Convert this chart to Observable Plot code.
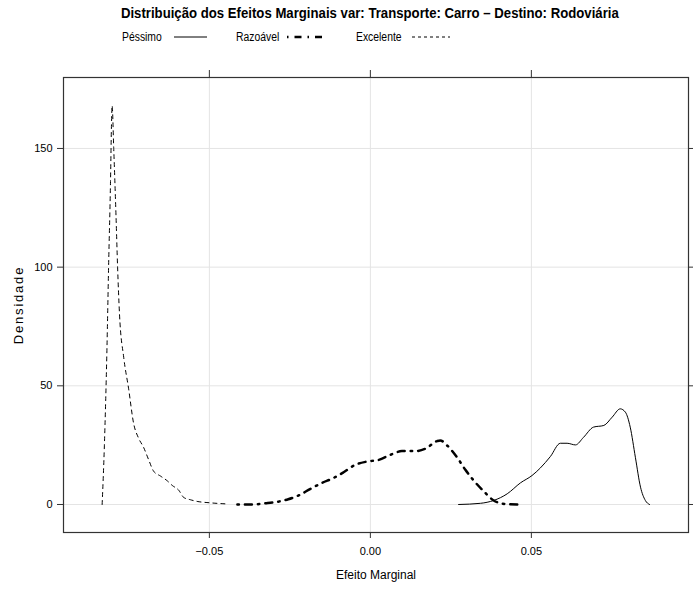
<!DOCTYPE html>
<html>
<head>
<meta charset="utf-8">
<script src="https://cdn.jsdelivr.net/npm/d3@7"></script>
<script src="https://cdn.jsdelivr.net/npm/@observablehq/plot@0.6"></script>
<style>
  body { margin: 0; background: white; width: 693px; height: 596px; overflow: hidden; }
  #wrap { position: relative; width: 693px; height: 596px; font-family: 'Liberation Sans', Arial, sans-serif; }
  #header { position: relative; width: 693px; height: 52px; }
  .abs { position: absolute; white-space: nowrap; }
  #title { left: 0; width: 740px; top: 4px; text-align: center; }
  #title span { display: inline-block; font-weight: bold; font-size: 15.5px; transform: scaleX(0.85); transform-origin: center; }
  .leg { font-size: 12.5px; top: 30px; transform: scaleX(0.83); transform-origin: left; }
  svg.sw { position: absolute; top: 31px; }
</style>
</head>
<body>
<div id="wrap">
  <div id="header">
    <div id="title" class="abs"><span>Distribuição dos Efeitos Marginais var: Transporte: Carro – Destino: Rodoviária</span></div>
    <div class="abs leg" style="left:122px">Péssimo</div>
    <svg class="sw" style="left:173px" width="36" height="12"><line x1="1" y1="6" x2="34" y2="6" stroke="black" stroke-width="1"/></svg>
    <div class="abs leg" style="left:236px">Razoável</div>
    <svg class="sw" style="left:285px" width="40" height="12"><line x1="2" y1="6" x2="38" y2="6" stroke="black" stroke-width="2.5" stroke-dasharray="1.5,6,7,6"/></svg>
    <div class="abs leg" style="left:356px">Excelente</div>
    <svg class="sw" style="left:411px" width="40" height="12"><line x1="1" y1="6" x2="39" y2="6" stroke="black" stroke-width="1" stroke-dasharray="3,3"/></svg>
  </div>
  <div id="chart"></div>
</div>
<script>
const xTicks = [-0.05, 0, 0.05];
const yTicks = [0, 50, 100, 150];

const pessimoX = [0.0274, 0.0342, 0.0383, 0.0425, 0.0466, 0.0502, 0.0528, 0.0559, 0.0590, 0.0611, 0.0637, 0.0662, 0.0693, 0.0725, 0.0751, 0.0776, 0.0792, 0.0807, 0.0823, 0.0839, 0.0854, 0.0867];
const pessimoY = [0, 0.5, 1.7, 4.5, 9.1, 12.2, 15.4, 20.2, 25.8, 25.8, 25.1, 28.3, 32.6, 33.3, 36.8, 40.3, 38.9, 32.6, 19.9, 7.3, 1.7, 0];

const razoavelX = [-0.0413, -0.0367, -0.0326, -0.0290, -0.0255, -0.0223, -0.0186, -0.0150, -0.0114, -0.0083, -0.0047, -0.0010, 0.0026, 0.0062, 0.0098, 0.0140, 0.0171, 0.0207, 0.0217, 0.0238, 0.0269, 0.0295, 0.0321, 0.0352, 0.0383, 0.0419, 0.0457];
const razoavelY = [0, 0, 0.5, 1.1, 2.2, 3.8, 6.6, 9.1, 11.2, 13.6, 16.7, 18.1, 18.8, 20.9, 22.5, 22.5, 23.5, 26.7, 27.0, 24.9, 19.9, 14.6, 10.1, 5.6, 1.7, 0.2, 0];

const excelenteX = [-0.0833, -0.0826, -0.0818, -0.0813, -0.0807, -0.0804, -0.0802, -0.0797, -0.0790, -0.0785, -0.0779, -0.0766, -0.0751, -0.0735, -0.0720, -0.0704, -0.0689, -0.0673, -0.0652, -0.0631, -0.0615, -0.0595, -0.0580, -0.0559, -0.0538, -0.0497, -0.0441];
const excelenteY = [0, 25, 66, 100, 136, 160, 168, 150, 122, 100, 80, 62, 49, 34, 28, 24, 19, 14, 12, 10, 8, 6, 3, 2, 1.3, 0.7, 0.2];

const toRows = (xs, ys) => xs.map((x, i) => ({x, y: ys[i]}));
const pessimo = toRows(pessimoX, pessimoY);
const razoavel = toRows(razoavelX, razoavelY);
const excelente = toRows(excelenteX, excelenteY);

const fmt = d => d3.format(".2f")(d);

const chart = Plot.plot({
  width: 693,
  height: 544,
  marginTop: 25,
  marginBottom: 64,
  marginLeft: 63,
  marginRight: 5,
  x: {domain: [-0.0953, 0.0988]},
  y: {domain: [-11.8, 179.9]},
  style: {fontFamily: "'Liberation Sans', Arial, sans-serif", fontSize: "11px", color: "black", background: "white", overflow: "visible"},
  marks: [
    Plot.gridX(xTicks, {stroke: "#e4e4e4", strokeOpacity: 1}),
    Plot.gridY(yTicks, {stroke: "#e4e4e4", strokeOpacity: 1}),
    Plot.axisX({ticks: xTicks, tickFormat: fmt, tickSize: 6, tickPadding: 9, label: null, stroke: "#333"}),
    Plot.axisX({anchor: "top", ticks: xTicks, tickFormat: () => "", tickSize: 8, label: null, stroke: "#333"}),
    Plot.axisY({ticks: yTicks, tickSize: 6, tickPadding: 5, label: null, stroke: "#333"}),
    Plot.axisY({anchor: "right", ticks: yTicks, tickFormat: () => "", tickSize: 5, label: null, stroke: "#333"}),
    Plot.frame({stroke: "#333", strokeWidth: 1.2}),
    Plot.text(["Densidade"], {frameAnchor: "left", textAnchor: "middle", dx: -45, rotate: -90, fontSize: 13}),
    Plot.text(["Efeito Marginal"], {frameAnchor: "bottom", textAnchor: "middle", dy: 46, fontSize: 12}),
    Plot.line(excelente, {x: "x", y: "y", curve: "monotone-x", stroke: "black", strokeWidth: 1, strokeDasharray: "4,4"}),
    Plot.line(razoavel, {x: "x", y: "y", curve: "monotone-x", stroke: "black", strokeWidth: 2.5, strokeDasharray: "1.5,6,7,6"}),
    Plot.line(pessimo, {x: "x", y: "y", curve: "monotone-x", stroke: "black", strokeWidth: 1})
  ]
});

d3.select(chart).selectAll("text").filter(function() { return this.textContent === "Densidade"; }).attr("letter-spacing", "1.8");
document.getElementById("chart").appendChild(chart);
</script>
</body>
</html>
